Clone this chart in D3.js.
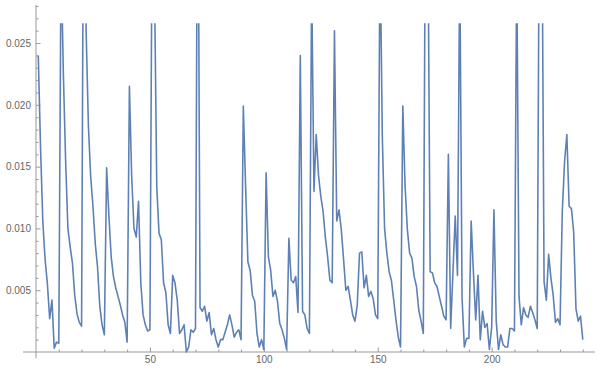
<html>
<head>
<meta charset="utf-8">
<script src="https://cdn.jsdelivr.net/npm/d3@7/dist/d3.min.js"></script>
<style>
    body { margin: 0; background: #fff; }
    .axis text { font-family: "Liberation Sans", Arial, sans-serif; font-size: 10px; fill: #666; }
    .axis line { stroke: #999; }
</style>
</head>
<body>
<script>
    // data: index 1..240 (peaks above the clip are guesses)
    var values = [
        0.0240, 0.0165, 0.0105, 0.0075, 0.0055, 0.0027, 0.0042, 0.0003, 0.0008, 0.0007,
        0.0320, 0.0226, 0.0155, 0.0100, 0.0085, 0.0072, 0.0046, 0.0031, 0.0024, 0.0021,
        0.0450, 0.0260, 0.0183, 0.0142, 0.0118, 0.0088, 0.0069, 0.0037, 0.0022, 0.0014,
        0.0149, 0.0110, 0.0077, 0.0061, 0.0052, 0.0045, 0.0038, 0.0030, 0.0024, 0.0008,
        0.0215, 0.0142, 0.0100, 0.0093, 0.0122, 0.0056, 0.0030, 0.0022, 0.0017, 0.0018,
        0.0360, 0.0300, 0.0134, 0.0096, 0.0091, 0.0056, 0.0048, 0.0022, 0.0015, 0.0062,
        0.0056, 0.0042, 0.0015, 0.0018, 0.0022, 0.0000, 0.0004, 0.0018, 0.0016, 0.0019,
        0.0450, 0.0036, 0.0033, 0.0037, 0.0025, 0.0032, 0.0014, 0.0019, 0.0010, 0.0004,
        0.0010, 0.0010, 0.0016, 0.0022, 0.0030, 0.0022, 0.0012, 0.0016, 0.0018, 0.0010,
        0.0199, 0.0134, 0.0073, 0.0066, 0.0046, 0.0041, 0.0015, 0.0004, 0.0010, 0.0002,
        0.0145, 0.0077, 0.0066, 0.0045, 0.0050, 0.0041, 0.0023, 0.0018, 0.0011, 0.0002,
        0.0092, 0.0058, 0.0056, 0.0061, 0.0032, 0.0240, 0.0033, 0.0030, 0.0019, 0.0015,
        0.0300, 0.0130, 0.0176, 0.0143, 0.0126, 0.0114, 0.0093, 0.0077, 0.0058, 0.0056,
        0.0260, 0.0106, 0.0115, 0.0099, 0.0075, 0.0050, 0.0053, 0.0042, 0.0030, 0.0025,
        0.0038, 0.0080, 0.0081, 0.0052, 0.0062, 0.0045, 0.0049, 0.0043, 0.0030, 0.0027,
        0.0330, 0.0175, 0.0100, 0.0080, 0.0065, 0.0058, 0.0042, 0.0026, 0.0012, 0.0004,
        0.0199, 0.0134, 0.0099, 0.0080, 0.0076, 0.0061, 0.0053, 0.0034, 0.0025, 0.0015,
        0.0400, 0.0350, 0.0065, 0.0064, 0.0056, 0.0053, 0.0045, 0.0037, 0.0029, 0.0026,
        0.0160, 0.0019, 0.0064, 0.0110, 0.0062, 0.0320, 0.0044, 0.0004, 0.0011, 0.0011,
        0.0106, 0.0064, 0.0026, 0.0062, 0.0010, 0.0033, 0.0020, 0.0023, 0.0002, 0.0020,
        0.0115, 0.0025, 0.0002, 0.0014, 0.0006, 0.0004, 0.0004, 0.0019, 0.0019, 0.0017,
        0.0320, 0.0045, 0.0022, 0.0036, 0.0030, 0.0028, 0.0037, 0.0032, 0.0026, 0.0019,
        0.0400, 0.0380, 0.0057, 0.0042, 0.0079, 0.0060, 0.0046, 0.0024, 0.0027, 0.0022,
        0.0114, 0.0154, 0.0176, 0.0118, 0.0116, 0.0097, 0.0035, 0.0025, 0.0029, 0.0010
    ];
    var xMajor = [50, 100, 150, 200];
    var xMinor = [10, 20, 30, 40, 60, 70, 80, 90, 110, 120, 130, 140, 160, 170, 180, 190, 210, 220, 230, 240];
    var yMajor = [0.005, 0.010, 0.015, 0.020, 0.025];
    var yMinor = d3.range(1, 29).filter(function(k){ return k % 5 != 0; }).map(function(k){ return k / 1000; });

    var width = 608;
    var height = 378;

    var svg = d3.select("body")
        .append("svg")
        .attr("width", width)
        .attr("height", height);

    var x = d3.scaleLinear().domain([0, 240]).range([36, 582.8]);
    var y = d3.scaleLinear().domain([0, 0.0266]).range([352, 23.3]);   // top of range = clip level

    // clip the tall spikes like the plot range does
    svg.append("clipPath").attr("id", "clip")
        .append("rect")
        .attr("x", 0).attr("y", y(0.0266))
        .attr("width", width).attr("height", height);

    // axis lines (reach a little beyond the data range)
    svg.append("line").attr("class", "axisline")
        .attr("x1", x(-5.7)).attr("x2", x(245.4))
        .attr("y1", y(0)).attr("y2", y(0))
        .attr("stroke", "#999");
    svg.append("line").attr("class", "axisline")
        .attr("x1", x(0)).attr("x2", x(0))
        .attr("y1", y(0.0281)).attr("y2", y(-0.0005))
        .attr("stroke", "#999");

    // x ticks
    var gx = svg.append("g").attr("class", "axis")
        .attr("transform", "translate(0," + y(0) + ")");
    gx.append("g").call(d3.axisBottom(x).tickValues(xMinor).tickSize(-2.5).tickFormat(""));
    gx.append("g").call(d3.axisBottom(x).tickValues(xMajor).tickSize(-4.5).tickPadding(4).tickFormat(d3.format("d")));

    // y ticks
    var gy = svg.append("g").attr("class", "axis")
        .attr("transform", "translate(" + x(0) + ",0)");
    gy.append("g").call(d3.axisLeft(y).tickValues(yMinor).tickSize(-2.5).tickFormat(""));
    gy.append("g").call(d3.axisLeft(y).tickValues(yMajor).tickSize(-4.5).tickPadding(5).tickFormat(d3.format(".3f")));

    svg.selectAll(".axis .domain").remove();

    var line = d3.line()
        .x(function(d, i){ return x(i + 1); })
        .y(function(d){ return y(d); });

    svg.append("path")
        .datum(values)
        .attr("clip-path", "url(#clip)")
        .attr("d", line)
        .attr("fill", "none")
        .attr("stroke", "rgb(94,129,181)")
        .attr("stroke-width", 1.6)
        .attr("stroke-linejoin", "round");
</script>
</body>
</html>
